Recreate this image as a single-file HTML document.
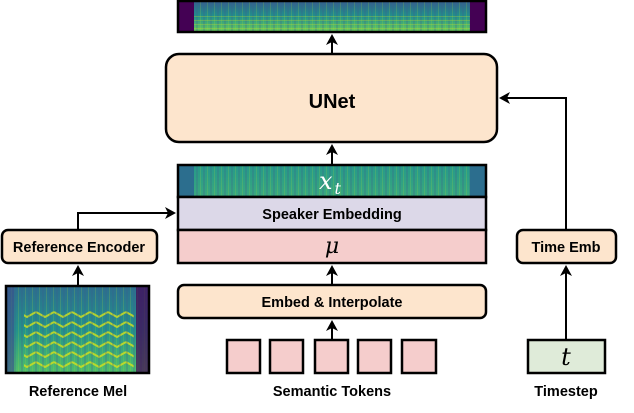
<!DOCTYPE html>
<html><head><meta charset="utf-8"><style>
body{margin:0;background:#fff;width:634px;height:408px;overflow:hidden}
</style></head><body>
<svg width="634" height="408" viewBox="0 0 634 408" xmlns="http://www.w3.org/2000/svg" font-family="Liberation Sans, sans-serif">
<defs>
<linearGradient id="specv" x1="0" y1="0" x2="0" y2="1">
<stop offset="0" stop-color="#355f8d"/><stop offset="0.5" stop-color="#21918c"/><stop offset="1" stop-color="#6ccd5a"/>
</linearGradient>
<linearGradient id="xtv" x1="0" y1="0" x2="0" y2="1">
<stop offset="0" stop-color="#26998a"/><stop offset="1" stop-color="#3aa87e"/>
</linearGradient>
<pattern id="vstr" width="7" height="40" patternUnits="userSpaceOnUse">
<rect x="0" y="0" width="2" height="40" fill="#3b5f8a" opacity="0.25"/>
<rect x="4" y="0" width="1" height="40" fill="#a0da39" opacity="0.2"/>
</pattern>
<pattern id="hstr" width="10" height="4" patternUnits="userSpaceOnUse">
<rect x="0" y="0" width="10" height="1" fill="#c8e020" opacity="0.3"/>
</pattern>
<linearGradient id="refv" x1="0" y1="0" x2="0" y2="1">
<stop offset="0" stop-color="#2c6e8e"/><stop offset="0.5" stop-color="#23928c"/><stop offset="1" stop-color="#4fbf6a"/>
</linearGradient>
<pattern id="chev" width="18" height="10" patternUnits="userSpaceOnUse">
<path d="M0 2 L9 7 L18 2" stroke="#d8e219" stroke-width="2" fill="none" opacity="0.8"/>
</pattern>
<marker id="ah" markerWidth="12" markerHeight="12" refX="9" refY="6" orient="auto" markerUnits="userSpaceOnUse">
<path d="M0,0 L11,6 L0,12 L3,6 z" fill="#000"/>
</marker>
</defs>

<!-- top spectrogram -->
<rect x="178" y="1" width="308" height="31" fill="#440154"/>
<rect x="194" y="1" width="276" height="31" fill="url(#specv)"/>
<rect x="194" y="1" width="276" height="31" fill="url(#vstr)"/>
<rect x="194" y="16" width="276" height="16" fill="url(#hstr)"/>
<rect x="178" y="1" width="308" height="31" fill="none" stroke="#000" stroke-width="2.5"/>

<!-- UNet -->
<line x1="332" y1="54" x2="332" y2="36" stroke="#000" stroke-width="2" marker-end="url(#ah)"/>
<rect x="166" y="54" width="331" height="88" rx="13" fill="#fde5cd" stroke="#000" stroke-width="2.5"/>
<text x="332" y="108" text-anchor="middle" font-weight="bold" font-size="20">UNet</text>
<line x1="332" y1="164" x2="332" y2="146" stroke="#000" stroke-width="2" marker-end="url(#ah)"/>

<!-- x_t -->
<rect x="178" y="165" width="308" height="32" fill="#2c6e8e"/>
<rect x="194" y="165" width="276" height="32" fill="url(#xtv)"/>
<rect x="194" y="165" width="276" height="32" fill="url(#vstr)"/>
<rect x="178" y="165" width="308" height="32" fill="none" stroke="#000" stroke-width="2.5"/>
<text x="330" y="189" text-anchor="middle" font-family="DejaVu Serif, serif" font-style="italic" font-size="24" fill="#fff">x<tspan font-size="16" dy="5" dx="2">t</tspan></text>

<rect x="178" y="197" width="308" height="33" fill="#dcd8e8" stroke="#000" stroke-width="2.5"/>
<text x="332" y="219" text-anchor="middle" font-weight="bold" font-size="14.5">Speaker Embedding</text>
<rect x="178" y="230" width="308" height="33" fill="#f5cdcc" stroke="#000" stroke-width="2.5"/>
<text x="332" y="253" text-anchor="middle" font-family="DejaVu Serif, serif" font-style="italic" font-size="22">μ</text>

<line x1="332" y1="285" x2="332" y2="267" stroke="#000" stroke-width="2" marker-end="url(#ah)"/>
<rect x="178" y="285" width="308" height="33" rx="6" fill="#fde5cd" stroke="#000" stroke-width="2.5"/>
<text x="332" y="307" text-anchor="middle" font-weight="bold" font-size="14.5">Embed &amp; Interpolate</text>
<line x1="332" y1="340" x2="332" y2="322" stroke="#000" stroke-width="2" marker-end="url(#ah)"/>

<g fill="#f5cdcc" stroke="#000" stroke-width="2.5">
<rect x="227" y="340" width="33" height="33"/>
<rect x="270" y="340" width="33" height="33"/>
<rect x="315" y="340" width="33" height="33"/>
<rect x="358" y="340" width="33" height="33"/>
<rect x="402" y="340" width="34" height="33"/>
</g>
<text x="332" y="396" text-anchor="middle" font-weight="bold" font-size="14.5">Semantic Tokens</text>

<!-- reference -->
<rect x="6" y="286" width="143" height="87" fill="url(#refv)"/>
<rect x="24" y="310" width="110" height="60" fill="url(#chev)"/>
<rect x="6" y="286" width="143" height="87" fill="url(#vstr)"/>
<rect x="6" y="286" width="8" height="87" fill="#3b528b" opacity="0.7"/>
<rect x="136" y="286" width="13" height="87" fill="#440154" opacity="0.7"/>
<rect x="6" y="286" width="143" height="87" fill="none" stroke="#000" stroke-width="2.5"/>
<text x="78" y="396" text-anchor="middle" font-weight="bold" font-size="14.5">Reference Mel</text>
<line x1="78" y1="285" x2="78" y2="267" stroke="#000" stroke-width="2" marker-end="url(#ah)"/>
<rect x="2" y="230" width="155" height="33" rx="6" fill="#fde5cd" stroke="#000" stroke-width="2.5"/>
<text x="79" y="252" text-anchor="middle" font-weight="bold" font-size="14.5">Reference Encoder</text>
<polyline points="78,230 78,213 174,213" fill="none" stroke="#000" stroke-width="2" marker-end="url(#ah)"/>

<!-- time -->
<rect x="528" y="340" width="77" height="33" fill="#dfebd9" stroke="#000" stroke-width="2.5"/>
<text x="566" y="365" text-anchor="middle" font-family="DejaVu Serif, serif" font-style="italic" font-size="24">t</text>
<text x="566" y="396" text-anchor="middle" font-weight="bold" font-size="14.5">Timestep</text>
<line x1="566" y1="340" x2="566" y2="267" stroke="#000" stroke-width="2" marker-end="url(#ah)"/>
<rect x="517" y="230" width="99" height="33" rx="6" fill="#fde5cd" stroke="#000" stroke-width="2.5"/>
<text x="566" y="252" text-anchor="middle" font-weight="bold" font-size="14.5">Time Emb</text>
<polyline points="566,230 566,98 501,98" fill="none" stroke="#000" stroke-width="2" marker-end="url(#ah)"/>
</svg>
</body></html>
